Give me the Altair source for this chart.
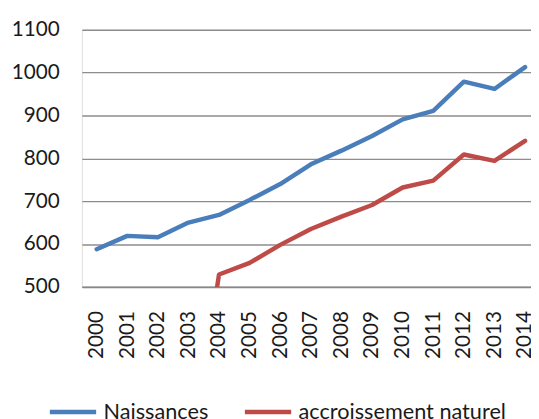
import altair as alt
import pandas as pd

years = list(range(2000, 2015))
naissances = [588, 619, 616, 650, 668, 703, 740, 786, 818, 852, 891, 911, 979, 962, 1013]
acc_years = list(range(2003, 2015))
accroissement = [70, 529, 556, 598, 635, 664, 691, 732, 748, 809, 794, 841]
series = ["Naissances", "accroissement naturel"]
colors = ["#4A7EBB", "#BE4B48"]
y_ticks = [500, 600, 700, 800, 900, 1000, 1100]

rows = [{"annee": y, "valeur": v, "serie": series[0]} for y, v in zip(years, naissances)]
rows += [{"annee": y, "valeur": v, "serie": series[1]} for y, v in zip(acc_years, accroissement)]
df = pd.DataFrame(rows)

FONT = "Lato"

chart = (
    alt.Chart(df)
    .mark_line(strokeWidth=4.5, strokeCap="round", strokeJoin="round", clip=True)
    .encode(
        x=alt.X(
            "annee:Q",
            scale=alt.Scale(domain=[1999.517, 2014.194], nice=False, zero=False),
            axis=alt.Axis(
                title=None,
                values=years,
                format="d",
                labelAngle=270,
                grid=False,
                ticks=False,
                tickSize=0,
                labelPadding=24,
                domainColor="#888888",
                domainWidth=2,
                labelFontSize=21,
                labelFont=FONT,
                labelColor="#1a1a1a",
                labelOverlap=False,
                labelFlush=False,
            ),
        ),
        y=alt.Y(
            "valeur:Q",
            scale=alt.Scale(domain=[500, 1100], nice=False, zero=False),
            axis=alt.Axis(
                title=None,
                values=y_ticks,
                format="d",
                domain=False,
                ticks=False,
                tickSize=0,
                labelPadding=23,
                gridColor="#8c8c8c",
                gridWidth=1.4,
                labelFontSize=21,
                labelFont=FONT,
                labelColor="#1a1a1a",
                labelOverlap=False,
                labelFlush=False,
            ),
        ),
        color=alt.Color(
            "serie:N",
            scale=alt.Scale(domain=series, range=colors),
            sort=series,
            legend=alt.Legend(
                title=None,
                orient="none",
                direction="horizontal",
                legendX=-35,
                legendY=362,
                symbolType="stroke",
                symbolSize=2209,
                symbolStrokeWidth=4.5,
                labelFontSize=22,
                labelFont=FONT,
                labelColor="#1a1a1a",
                labelOffset=5,
                columnPadding=27,
                labelLimit=400,
            ),
        ),
    )
    .properties(
        width=456,
        height=261,
        autosize=alt.AutoSizeParams(type="none"),
        padding={"left": 75, "top": 19, "right": 0, "bottom": 131},
    )
    .configure_view(stroke=None)
    .configure(background="white")
)

chart.save("out.html", embed_options={"renderer": "svg", "actions": False})
